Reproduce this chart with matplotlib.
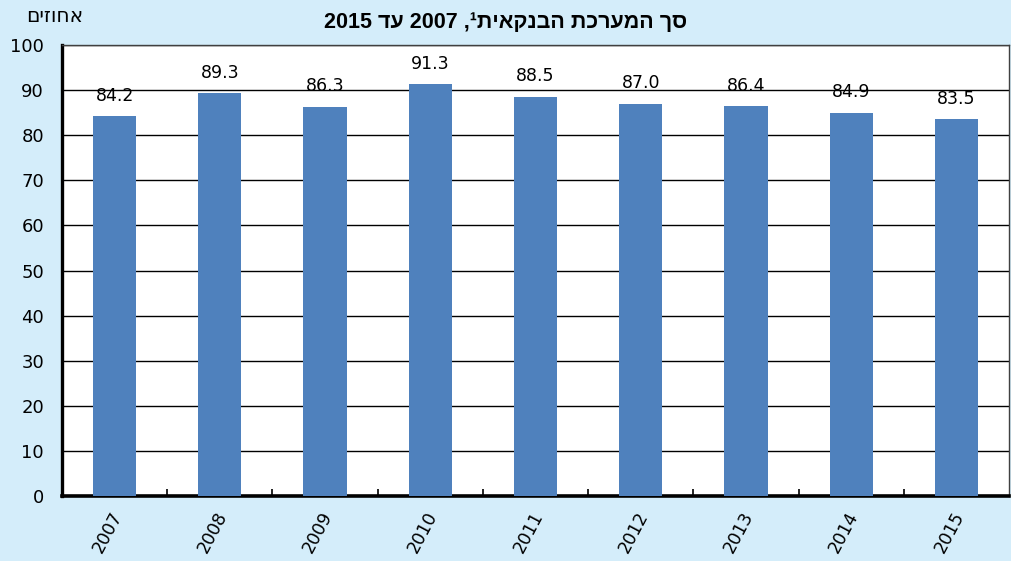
import matplotlib
matplotlib.use("Agg")
import matplotlib.pyplot as plt
import numpy as np

years = ["2007", "2008", "2009", "2010", "2011", "2012", "2013", "2014", "2015"]
values = [84.2, 89.3, 86.3, 91.3, 88.5, 87.0, 86.4, 84.9, 83.5]

# Hebrew strings, written in visual (left-to-right) order since matplotlib has no bidi
title_text = "2015 " + "עד"[::-1] + " 2007 ," + "¹" + "הבנקאית"[::-1] + " " + "המערכת"[::-1] + " " + "סך"[::-1]
unit_text = "אחוזים"[::-1]

BG = "#D4EDFA"
BAR = "#4F81BD"

fig = plt.figure(figsize=(10.12, 5.61), dpi=100, facecolor=BG)
ax = fig.add_axes([62 / 1012, 1 - 496 / 561, (1009 - 62) / 1012, (496 - 45) / 561])
ax.set_facecolor("white")

x = np.arange(len(years))
ax.bar(x, values, width=0.41, color=BAR, zorder=3)

for xi, v in zip(x, values):
    ax.text(xi, v + 2.6, f"{v:.1f}", ha="center", va="bottom", fontsize=12.5,
            family="DejaVu Sans", zorder=4)

ax.set_xlim(-0.5, len(years) - 0.5)
ax.set_ylim(0, 100)
ax.set_yticks(np.arange(0, 101, 10))
ax.yaxis.grid(True, color="black", linewidth=1.0, zorder=1)
ax.set_axisbelow(True)

ax.set_xticks(x + 0.03)
ax.set_xticklabels(years, rotation=62, fontsize=12.5, ha="right", va="center",
                   rotation_mode="anchor", family="DejaVu Sans")
ax.tick_params(axis="x", length=0, pad=12)
ax.set_xticks(np.arange(0.5, len(years) - 0.5, 1), minor=True)
ax.tick_params(axis="x", which="minor", direction="in", length=5, width=1.2, color="black")
ax.tick_params(axis="y", length=0, labelsize=13, pad=13)
for lab in ax.get_yticklabels():
    lab.set_family("DejaVu Sans")

ax.spines["left"].set_linewidth(2.4)
ax.spines["bottom"].set_linewidth(2.6)
ax.spines["top"].set_linewidth(1.0)
ax.spines["top"].set_color("#404040")
ax.spines["right"].set_linewidth(1.0)
ax.spines["right"].set_color("#404040")

fig.text(506 / 1012, 1 - 23 / 561, title_text, ha="center", va="center",
         fontsize=15.5, fontweight="bold", family="Liberation Sans")
fig.text(55 / 1012, 1 - 16 / 561, unit_text, ha="center", va="center",
         fontsize=14.5, family="DejaVu Sans")

fig.savefig("out.png", dpi=100, facecolor=BG)
